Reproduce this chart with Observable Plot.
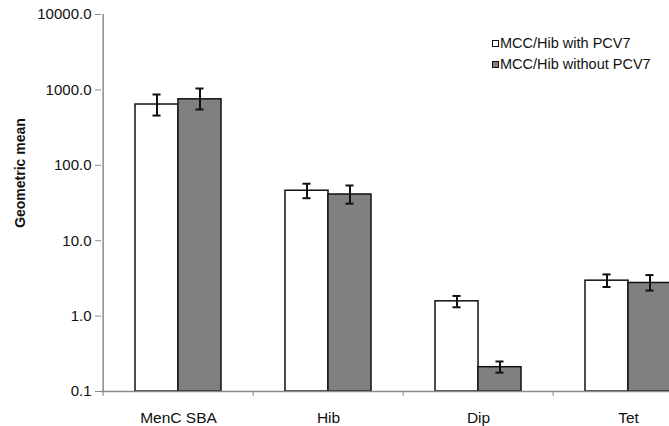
<!DOCTYPE html>
<html>
<head>
<meta charset="utf-8">
<script src="https://cdn.jsdelivr.net/npm/d3@7"></script>
<script src="https://cdn.jsdelivr.net/npm/@observablehq/plot@0.6"></script>
<style>
  body { margin: 0; background: white; overflow: hidden; }
  #wrap { position: relative; width: 669px; height: 426px; overflow: hidden; }
  .legend { position: absolute; left: 492px; top: 33px; font: 14.5px "Liberation Sans", Arial, sans-serif; color: #111; line-height: 21px; }
  .legend .row { display: flex; align-items: center; white-space: nowrap; }
  .legend .sw { width: 5px; height: 5px; border: 1.5px solid #111; margin-right: 1px; box-sizing: content-box; }
</style>
</head>
<body>
<div id="wrap"></div>
<script>
const categories = ["MenC SBA", "Hib", "Dip", "Tet"];
const seriesNames = ["MCC/Hib with PCV7", "MCC/Hib without PCV7"];
const withPCV7 = [640, 46, 1.57, 2.95];
const withPCV7Low = [457, 36.6, 1.31, 2.43];
const withPCV7High = [869, 57, 1.85, 3.57];
const withoutPCV7 = [750, 41, 0.21, 2.75];
const withoutPCV7Low = [550, 31, 0.178, 2.18];
const withoutPCV7High = [1044, 54, 0.25, 3.5];
const yTicks = [0.1, 1, 10, 100, 1000, 10000];

const colors = ["#ffffff", "#808080"];

const rows = [];
categories.forEach((c, i) => {
  rows.push({cat: c, series: seriesNames[0], v: withPCV7[i], lo: withPCV7Low[i], hi: withPCV7High[i]});
  rows.push({cat: c, series: seriesNames[1], v: withoutPCV7[i], lo: withoutPCV7Low[i], hi: withoutPCV7High[i]});
});
const s0 = rows.filter(d => d.series === seriesNames[0]);
const s1 = rows.filter(d => d.series === seriesNames[1]);

const xRange = [101, 704];
const pInner = 0.43, pOuter = 0.215;
const step = (xRange[1] - xRange[0]) / (categories.length - pInner + 2 * pOuter);
const bw = step * (1 - pInner);
const half = bw / 2;
const cap = 4;
const axisGray = "#8a8a8a";

const plot = Plot.plot({
  width: 669,
  height: 426,
  marginTop: 14,
  marginBottom: 35,
  marginLeft: 101,
  marginRight: 0,
  style: {fontFamily: "'Liberation Sans', Arial, sans-serif", fontSize: "15px", color: "#111", background: "white"},
  x: {type: "band", domain: categories, range: xRange, paddingInner: pInner, paddingOuter: pOuter, label: null},
  y: {type: "log", domain: [0.1, 10000], range: [391, 14], label: null},
  marks: [
    Plot.barY(s0, {x: "cat", y1: 0.1, y2: "v", fill: colors[0], stroke: "#111", strokeWidth: 1.5, insetRight: half}),
    Plot.barY(s1, {x: "cat", y1: 0.1, y2: "v", fill: colors[1], stroke: "#111", strokeWidth: 1.5, insetLeft: half}),
    Plot.ruleX(s0, {x: "cat", y1: "lo", y2: "hi", dx: -half / 2, stroke: "#111", strokeWidth: 2}),
    Plot.ruleX(s1, {x: "cat", y1: "lo", y2: "hi", dx: half / 2, stroke: "#111", strokeWidth: 2}),
    Plot.tickY(s0, {x: "cat", y: "hi", insetLeft: half / 2 - cap, insetRight: bw - half / 2 - cap, stroke: "#111", strokeWidth: 2}),
    Plot.tickY(s0, {x: "cat", y: "lo", insetLeft: half / 2 - cap, insetRight: bw - half / 2 - cap, stroke: "#111", strokeWidth: 2}),
    Plot.tickY(s1, {x: "cat", y: "hi", insetLeft: half + half / 2 - cap, insetRight: half / 2 - cap, stroke: "#111", strokeWidth: 2}),
    Plot.tickY(s1, {x: "cat", y: "lo", insetLeft: half + half / 2 - cap, insetRight: half / 2 - cap, stroke: "#111", strokeWidth: 2}),
    Plot.ruleY([0.1], {stroke: axisGray, strokeWidth: 1.5}),
    Plot.ruleX([categories[0]], {x: d => d, dx: -step / 2, stroke: axisGray, strokeWidth: 1.5}),
    Plot.axisY({ticks: yTicks, tickFormat: d => d.toFixed(1), tickSize: 6, tickPadding: 4, stroke: axisGray, fill: "#111", fontSize: 15, label: null}),
    Plot.axisY({ticks: [], label: "Geometric mean", labelAnchor: "center", labelArrow: "none", labelOffset: 86, fontSize: 14, fontWeight: "bold", fill: "#111"}),
    Plot.axisX({ticks: categories, dx: -step / 2, tickSize: 5, text: null, stroke: axisGray, label: null}),
    Plot.axisX({ticks: categories, tickSize: 0, tickPadding: 20, fill: "#111", fontSize: 15.5, label: null})
  ]
});
document.getElementById("wrap").appendChild(plot);
// y-axis title sits above the frame centre in the reference: shift it up
plot.querySelectorAll("text").forEach(t => {
  if (t.textContent.trim() === "Geometric mean") {
    t.setAttribute("font-weight", "bold");
    const tr = t.getAttribute("transform") || "";
    const m = tr.match(/translate\(([-\d.]+),\s*([-\d.]+)\)/);
    if (m) t.setAttribute("transform", tr.replace(m[0], `translate(${m[1]},${(+m[2] - 30).toFixed(1)})`));
  }
});

const legend = document.createElement("div");
legend.className = "legend";
seriesNames.forEach((n, i) => {
  const r = document.createElement("div");
  r.className = "row";
  const sw = document.createElement("span");
  sw.className = "sw";
  sw.style.background = colors[i];
  const t = document.createElement("span");
  t.textContent = n;
  r.appendChild(sw); r.appendChild(t);
  legend.appendChild(r);
});
document.getElementById("wrap").appendChild(legend);
</script>
</body>
</html>
